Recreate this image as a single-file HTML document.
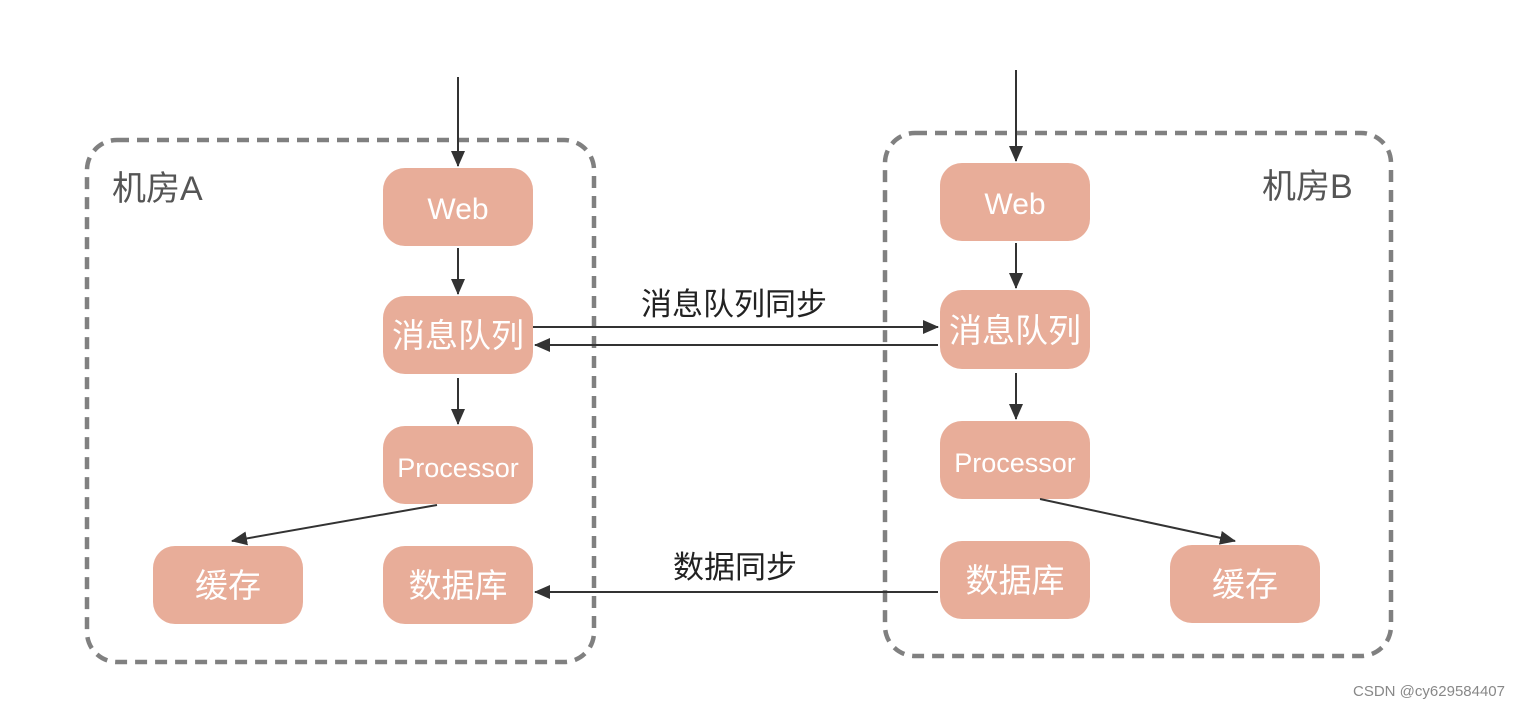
<!DOCTYPE html>
<html><head><meta charset="utf-8"><style>
body{margin:0;width:1520px;height:710px;background:#fff;overflow:hidden;position:relative;font-family:"Liberation Sans","Noto Sans CJK SC",sans-serif}
</style></head><body>
<svg width="1520" height="710" xmlns="http://www.w3.org/2000/svg" style="position:absolute;left:0;top:0">
<defs><marker id="b" markerWidth="16" markerHeight="14" refX="15" refY="7" orient="auto" markerUnits="userSpaceOnUse"><path d="M0,0 L16,7 L0,14 Z" fill="#333"/></marker></defs>
<g fill="none" stroke="#808080" stroke-width="4.5" stroke-dasharray="12,8">
<rect x="87" y="140" width="507" height="522" rx="30"/>
<rect x="885" y="133" width="506" height="523" rx="30"/>
</g>
<g fill="#e8ad99">
<rect x="383" y="168" width="150" height="78" rx="22"/>
<rect x="383" y="296" width="150" height="78" rx="22"/>
<rect x="383" y="426" width="150" height="78" rx="22"/>
<rect x="153" y="546" width="150" height="78" rx="22"/>
<rect x="383" y="546" width="150" height="78" rx="22"/>
<rect x="940" y="163" width="150" height="78" rx="22"/>
<rect x="940" y="290" width="150" height="79" rx="22"/>
<rect x="940" y="421" width="150" height="78" rx="22"/>
<rect x="940" y="541" width="150" height="78" rx="22"/>
<rect x="1170" y="545" width="150" height="78" rx="22"/>
</g>
<g stroke="#333" stroke-width="2" fill="none">
<line x1="458" y1="77" x2="458" y2="166" marker-end="url(#b)"/>
<line x1="458" y1="248" x2="458" y2="294" marker-end="url(#b)"/>
<line x1="458" y1="378" x2="458" y2="424" marker-end="url(#b)"/>
<line x1="1016" y1="70" x2="1016" y2="161" marker-end="url(#b)"/>
<line x1="1016" y1="243" x2="1016" y2="288" marker-end="url(#b)"/>
<line x1="1016" y1="373" x2="1016" y2="419" marker-end="url(#b)"/>
<line x1="533" y1="327" x2="938" y2="327" marker-end="url(#b)"/>
<line x1="938" y1="345" x2="535" y2="345" marker-end="url(#b)"/>
<line x1="938" y1="592" x2="535" y2="592" marker-end="url(#b)"/>
<line x1="437" y1="505" x2="232" y2="541" marker-end="url(#b)"/>
<line x1="1040" y1="499" x2="1235" y2="541" marker-end="url(#b)"/>
</g>
<g fill="#fff" font-size="33" text-anchor="middle" font-family="Liberation Sans,Noto Sans CJK SC,sans-serif">
<text x="458" y="219" font-size="30">Web</text>
<text x="458" y="347">消息队列</text>
<text x="458" y="477" font-size="27">Processor</text>
<text x="228" y="597">缓存</text>
<text x="458" y="597">数据库</text>
<text x="1015" y="214" font-size="30">Web</text>
<text x="1015" y="342">消息队列</text>
<text x="1015" y="472" font-size="27">Processor</text>
<text x="1015" y="592">数据库</text>
<text x="1245" y="596">缓存</text>
</g>
<g fill="#555" font-size="34" font-family="Liberation Sans,Noto Sans CJK SC,sans-serif">
<text x="112" y="200">机房A</text>
<text x="1262" y="198">机房B</text>
</g>
<g fill="#222" font-size="31" text-anchor="middle" font-family="Liberation Sans,Noto Sans CJK SC,sans-serif">
<text x="734" y="315">消息队列同步</text>
<text x="735" y="578">数据同步</text>
</g>
<text x="1505" y="696" text-anchor="end" fill="#888" font-size="15" font-family="Liberation Sans,sans-serif">CSDN @cy629584407</text>
</svg>
</body></html>
